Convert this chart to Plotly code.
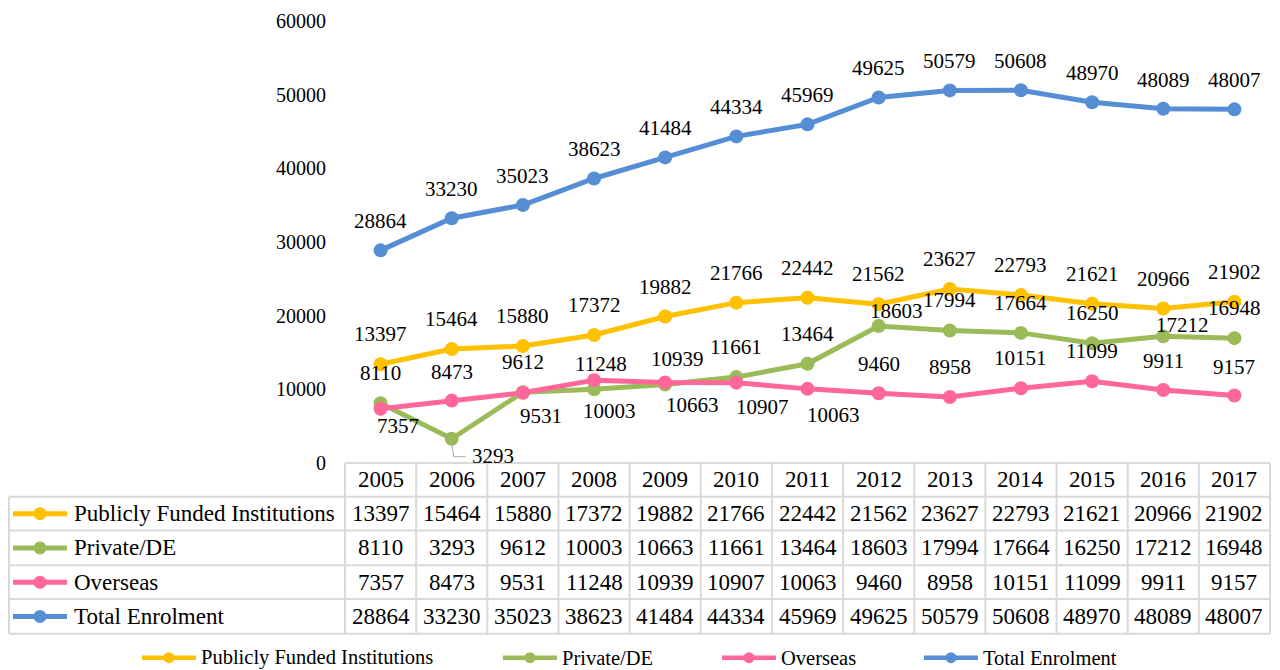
import plotly.graph_objects as go

# ---------------- data ----------------
years = [2005, 2006, 2007, 2008, 2009, 2010, 2011, 2012, 2013, 2014, 2015, 2016, 2017]
series_names = ["Publicly Funded Institutions", "Private/DE", "Overseas", "Total Enrolment"]
publicly_funded = [13397, 15464, 15880, 17372, 19882, 21766, 22442, 21562, 23627, 22793, 21621, 20966, 21902]
private_de = [8110, 3293, 9612, 10003, 10663, 11661, 13464, 18603, 17994, 17664, 16250, 17212, 16948]
overseas = [7357, 8473, 9531, 11248, 10939, 10907, 10063, 9460, 8958, 10151, 11099, 9911, 9157]
total_enrolment = [28864, 33230, 35023, 38623, 41484, 44334, 45969, 49625, 50579, 50608, 48970, 48089, 48007]
y_ticks = [0, 10000, 20000, 30000, 40000, 50000, 60000]

series_values = [publicly_funded, private_de, overseas, total_enrolment]

# ---------------- style ----------------
colors = ["#FFC000", "#9BBB59", "#FF6699", "#558ED5"]
FONT = "Liberation Serif, Times New Roman, serif"
W, H = 1280, 670
PL, PR, PT, PB = 345, 1270, 18, 463  # plot area in pixels

# label offsets in screen pixels (dx right, dy down) per series / point
A = (0, -29)
label_offsets = [
    [A] * 13,
    [A, (41, 18), A, (15, 23), (27, 22), A, A, (18, -14), A, A, A, (19, -10), A],
    [(17, 18), (0, -28), (18, 24), (7, -15), (12, -22), (26, 25), (26, 27),
     (0, -28), A, A, A, (0, -28), (0, -28)],
    [(0, -28)] * 13,
]


def px_x(px):
    return (px - PL) / (PR - PL)


def px_y(py):
    return (PB - py) / (PB - PT)


fig = go.Figure()

for name, vals, col in zip(series_names, series_values, colors):
    fig.add_trace(go.Scatter(
        x=years, y=vals, name=name, mode="lines+markers",
        line=dict(color=col, width=5),
        marker=dict(color=col, size=14),
        showlegend=False, cliponaxis=False,
    ))

annotations = []
shapes = []

# data labels
for s, vals in enumerate(series_values):
    for i, (yr, v) in enumerate(zip(years, vals)):
        dx, dy = label_offsets[s][i]
        annotations.append(dict(
            x=yr, y=v, xref="x", yref="y", text=str(v), showarrow=False,
            xshift=dx, yshift=-dy + 1, xanchor="center", yanchor="middle",
            font=dict(family=FONT, size=21, color="#000000"),
        ))

# leader line for the 2006 Private/DE label
shapes.append(dict(
    type="path", xref="x", yref="y", xsizemode="pixel", ysizemode="pixel",
    xanchor=years[1], yanchor=private_de[1],
    path="M 0,-5 L 2,-18 L 14,-18",
    line=dict(color="#A6A6A6", width=1),
))

# ---------------- data table ----------------
GRID = "#D9D9D9"
col_w = (PR - PL) / len(years)
row_lines = [497, 531, 566, 600, 635]
row_centers = [514, 548.5, 583, 617.5]
TL = 9

# header top line
shapes.append(dict(type="line", xref="paper", yref="paper",
                   x0=px_x(PL), x1=px_x(PR), y0=px_y(PB), y1=px_y(PB),
                   line=dict(color=GRID, width=2)))
for ry in row_lines:
    shapes.append(dict(type="line", xref="paper", yref="paper",
                       x0=px_x(TL), x1=px_x(PR), y0=px_y(ry), y1=px_y(ry),
                       line=dict(color=GRID, width=2)))
shapes.append(dict(type="line", xref="paper", yref="paper",
                   x0=px_x(TL), x1=px_x(TL), y0=px_y(row_lines[0]), y1=px_y(row_lines[-1]),
                   line=dict(color=GRID, width=2)))
for k in range(len(years) + 1):
    xx = PL + k * col_w
    shapes.append(dict(type="line", xref="paper", yref="paper",
                       x0=px_x(xx), x1=px_x(xx), y0=px_y(PB), y1=px_y(row_lines[-1]),
                       line=dict(color=GRID, width=2)))

# header years
for yr in years:
    annotations.append(dict(
        x=yr, y=px_y(480), xref="x", yref="paper", text=str(yr), showarrow=False,
        xanchor="center", yanchor="middle",
        font=dict(family=FONT, size=23, color="#000000"),
    ))

# rows
for r, (name, vals, col) in enumerate(zip(series_names, series_values, colors)):
    cy = row_centers[r]
    shapes.append(dict(type="line", xref="paper", yref="paper",
                       x0=px_x(13), x1=px_x(67), y0=px_y(cy), y1=px_y(cy),
                       line=dict(color=col, width=5)))
    shapes.append(dict(type="circle", xref="paper", yref="paper",
                       xsizemode="pixel", ysizemode="pixel",
                       xanchor=px_x(40), yanchor=px_y(cy),
                       x0=-6.5, x1=6.5, y0=-6.5, y1=6.5,
                       fillcolor=col, line=dict(width=0)))
    annotations.append(dict(
        x=px_x(72), y=px_y(cy), xref="paper", yref="paper", text=name,
        showarrow=False, xanchor="left", yanchor="middle",
        font=dict(family=FONT, size=23, color="#000000"),
    ))
    for yr, v in zip(years, vals):
        annotations.append(dict(
            x=yr, y=px_y(cy), xref="x", yref="paper", text=str(v), showarrow=False,
            xanchor="center", yanchor="middle",
            font=dict(family=FONT, size=23, color="#000000"),
        ))

# ---------------- bottom legend ----------------
legend_y = 659
legend_x = [142, 503, 722, 924]
for name, col, lx in zip(series_names, colors, legend_x):
    shapes.append(dict(type="line", xref="paper", yref="paper",
                       x0=px_x(lx), x1=px_x(lx + 54), y0=px_y(legend_y), y1=px_y(legend_y),
                       line=dict(color=col, width=4.5)))
    shapes.append(dict(type="circle", xref="paper", yref="paper",
                       xsizemode="pixel", ysizemode="pixel",
                       xanchor=px_x(lx + 27), yanchor=px_y(legend_y),
                       x0=-5.5, x1=5.5, y0=-5.5, y1=5.5,
                       fillcolor=col, line=dict(width=0)))
    annotations.append(dict(
        x=px_x(lx + 57), y=px_y(legend_y), xref="paper", yref="paper", text=name,
        showarrow=False, xanchor="left", yanchor="middle",
        font=dict(family=FONT, size=20.5, color="#000000"),
    ))

fig.update_layout(
    width=W, height=H,
    margin=dict(l=PL, r=W - PR, t=PT, b=H - PB, pad=0),
    paper_bgcolor="#FFFFFF", plot_bgcolor="#FFFFFF",
    font=dict(family=FONT, color="#000000"),
    showlegend=False,
    annotations=annotations,
    shapes=shapes,
)
fig.update_xaxes(range=[years[0] - 0.5, years[-1] + 0.5], visible=False, fixedrange=True)
fig.update_yaxes(
    range=[y_ticks[0], y_ticks[-1]], tickvals=y_ticks, ticktext=[str(t) for t in y_ticks],
    showgrid=False, zeroline=False, showline=False, ticks="",
    ticklabelstandoff=18, tickfont=dict(family=FONT, size=20, color="#000000"),
    fixedrange=True,
)

fig.write_html(
    "out.html",
    config={"displayModeBar": False},
    post_script="document.body.style.margin='0';document.body.style.overflow='hidden';",
)
